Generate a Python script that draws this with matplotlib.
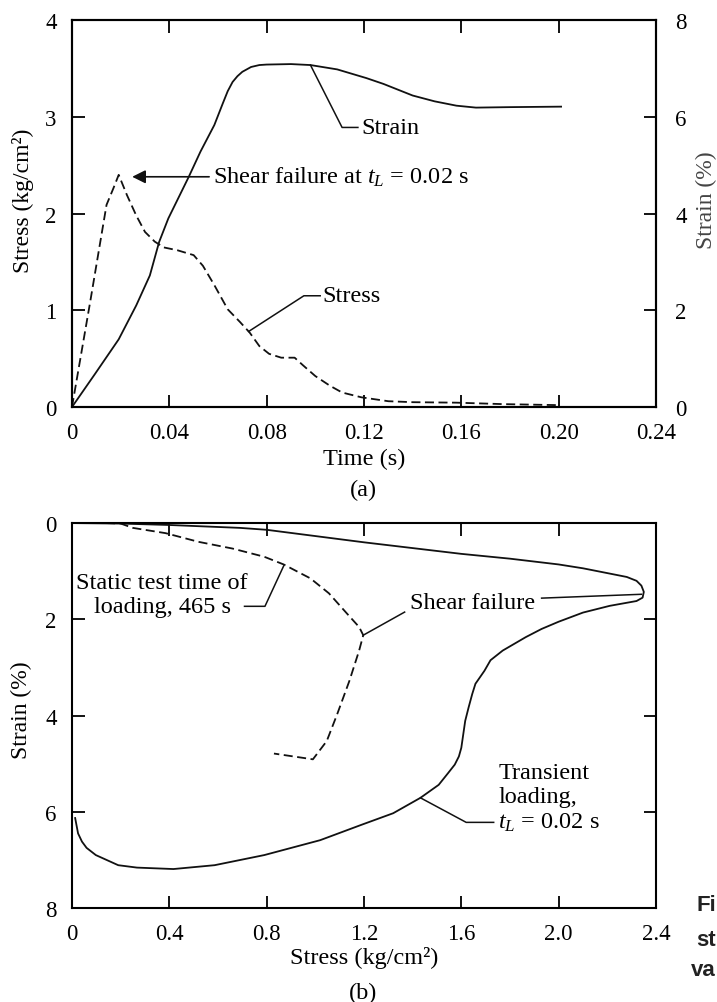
import numpy as np
import matplotlib.pyplot as plt

plt.rcParams['font.family'] = ['Liberation Serif', 'DejaVu Serif']
plt.rcParams['mathtext.fontset'] = 'custom'
plt.rcParams['mathtext.rm'] = 'Liberation Serif'
plt.rcParams['mathtext.it'] = 'Liberation Serif:italic'

# (a) stress and strain against time
time_stress = [0, 0.0075, 0.0142, 0.017, 0.0192, 0.0226, 0.0264, 0.030, 0.034, 0.0377,
               0.0434, 0.050, 0.0538, 0.0585, 0.064, 0.069, 0.073, 0.077, 0.081, 0.086,
               0.0915, 0.095, 0.100, 0.106, 0.111, 0.119, 0.130, 0.140, 0.158, 0.177, 0.199]
stress_a = [0, 1.09, 2.09, 2.26, 2.40, 2.19, 1.98, 1.81, 1.71, 1.65,
            1.62, 1.57, 1.46, 1.26, 1.01, 0.88, 0.77, 0.63, 0.55, 0.51,
            0.51, 0.43, 0.32, 0.22, 0.15, 0.10, 0.06, 0.05, 0.045, 0.03, 0.02]

time_strain = [0, 0.0094, 0.0192, 0.0264, 0.032, 0.0358, 0.0396, 0.048, 0.0528, 0.0585,
               0.062, 0.064, 0.066, 0.068, 0.070, 0.0736, 0.077, 0.080, 0.090, 0.098,
               0.109, 0.121, 0.128, 0.134, 0.140, 0.149, 0.158, 0.166, 0.180, 0.201]
strain_a = [0, 0.68, 1.40, 2.10, 2.72, 3.41, 3.90, 4.76, 5.28, 5.83,
            6.28, 6.53, 6.72, 6.84, 6.93, 7.03, 7.07, 7.08, 7.09, 7.07,
            6.98, 6.80, 6.68, 6.56, 6.44, 6.32, 6.23, 6.19, 6.20, 6.21]

# (b) strain against stress
stress_transient = [0.0, 0.2, 0.4, 0.69, 0.8, 1.2, 1.6, 1.8, 2.0, 2.1, 2.2, 2.28, 2.32, 2.34,
                    2.35, 2.345, 2.32, 2.21, 2.1, 2.0, 1.93, 1.865, 1.77, 1.72, 1.695, 1.658,
                    1.645, 1.63, 1.616, 1.6, 1.59, 1.573, 1.545, 1.507, 1.432, 1.32, 1.19, 1.02,
                    0.79, 0.586, 0.417, 0.267, 0.19, 0.098, 0.06, 0.041, 0.025, 0.013]
strain_transient = [0.0, 0.01, 0.04, 0.10, 0.14, 0.40, 0.64, 0.74, 0.86, 0.94, 1.04, 1.12, 1.20, 1.30,
                    1.43, 1.55, 1.62, 1.72, 1.86, 2.05, 2.20, 2.37, 2.65, 2.85, 3.07, 3.34,
                    3.55, 3.83, 4.11, 4.67, 4.85, 5.02, 5.20, 5.44, 5.71, 6.03, 6.27, 6.59,
                    6.90, 7.11, 7.19, 7.16, 7.11, 6.90, 6.75, 6.62, 6.45, 6.13]

stress_static = [0.14, 0.2, 0.25, 0.385, 0.52, 0.66, 0.79, 0.87, 0.98, 1.056, 1.13, 1.18, 1.197,
                 1.18, 1.14, 1.09, 1.047, 0.99, 0.83]
strain_static = [0.0, 0.01, 0.10, 0.21, 0.39, 0.53, 0.70, 0.86, 1.15, 1.46, 1.88, 2.16, 2.33,
                 2.65, 3.28, 3.97, 4.53, 4.91, 4.79]

time_ticks = [0, 0.04, 0.08, 0.12, 0.16, 0.20, 0.24]
time_labels = ['0', '0.04', '0.08', '0.12', '0.16', '0.20', '0.24']
stress_ticks = [0, 0.4, 0.8, 1.2, 1.6, 2.0, 2.4]
stress_labels = ['0', '0.4', '0.8', '1.2', '1.6', '2.0', '2.4']

FS = 16.5   # tick labels
FT = 17.5   # annotations and axis titles
DASH = (0, (5, 2.5))
LW = 1.3
INK = '#111111'

fig = plt.figure(figsize=(7.17, 10.03), dpi=100)

# ---- (a)
ax1 = fig.add_axes([0.1004, 0.5932, 0.8145, 0.3858])
ax2 = ax1.twinx()

ax1.plot(time_stress, stress_a, color=INK, lw=LW, linestyle=DASH)
ax2.plot(time_strain, strain_a, color=INK, lw=LW)

ax1.set_xlim(0, 0.24)
ax1.set_ylim(0, 4)
ax2.set_ylim(0, 8)
ax1.set_xticks(time_ticks)
ax1.set_xticklabels(time_labels)
ax1.set_yticks([0, 1, 2, 3, 4])
ax2.set_yticks([0, 2, 4, 6, 8])

ax1.tick_params(direction='in', length=9, width=1.3, labelsize=FS, pad=11,
                top=True, right=False)
ax2.tick_params(direction='in', length=9, width=1.3, labelsize=FS, pad=14)
for ax in (ax1, ax2):
    for s in ax.spines.values():
        s.set_linewidth(1.5)

ax1.set_xlabel('Time (s)', fontsize=FT)
ax1.xaxis.set_label_coords(0.5, -0.134)
ax1.xaxis.label.set_va('center')
ax1.set_ylabel('Stress (kg/cm²)', fontsize=17)
ax1.yaxis.set_label_coords(-0.084, 0.535)
ax1.yaxis.label.set_va('center')
ax2.set_ylabel('Strain (%)', fontsize=17, rotation=90, color='#444444')
ax2.yaxis.set_label_coords(1.086, 0.537)
ax2.yaxis.label.set_va('center')

# "Strain" leader
t0 = 0.098
y0 = np.interp(t0, time_strain, strain_a) / 2
ax1.plot([t0, 0.111, 0.1175], [y0, 2.89, 2.89], color=INK, lw=1.1)
ax1.text(0.119, 2.89, 'Strain', fontsize=FT, va='center', ha='left')

# shear failure arrow
ax1.annotate('', xy=(0.0236, 2.38), xytext=(0.0575, 2.38),
             arrowprops=dict(arrowstyle='-|>', color=INK, lw=1.2, mutation_scale=20))
ax1.text(0.0578, 2.38, r'Shear failure at $t_L$ = 0.02 s', fontsize=FT,
         va='center', ha='left')

# "Stress" leader
t1 = 0.0726
y1 = np.interp(t1, time_stress, stress_a)
ax1.plot([t1, 0.0953, 0.102], [y1, 1.15, 1.15], color=INK, lw=1.1)
ax1.text(0.1028, 1.15, 'Stress', fontsize=FT, va='center', ha='left')

fig.text(363 / 717, 1 - 490 / 1003, '(a)', fontsize=FT, ha='center', va='center')

# ---- (b)
ax3 = fig.add_axes([0.1004, 0.0937, 0.8145, 0.3838])
ax3.plot(stress_transient, strain_transient, color=INK, lw=LW)
ax3.plot(stress_static, strain_static, color=INK, lw=LW, linestyle=DASH)

ax3.set_xlim(0, 2.4)
ax3.set_ylim(8, 0)
ax3.set_xticks(stress_ticks)
ax3.set_xticklabels(stress_labels)
ax3.set_yticks([0, 2, 4, 6, 8])
ax3.tick_params(direction='in', length=9, width=1.3, labelsize=FS, pad=11,
                top=True, right=True)
for s in ax3.spines.values():
    s.set_linewidth(1.5)

ax3.set_xlabel('Stress (kg/cm²)', fontsize=FT)
ax3.xaxis.set_label_coords(0.5, -0.127)
ax3.xaxis.label.set_va('center')
ax3.set_ylabel('Strain (%)', fontsize=17)
ax3.yaxis.set_label_coords(-0.086, 0.517)
ax3.yaxis.label.set_va('center')

# static test label
ax3.plot([0.87, 0.793, 0.709], [0.89, 1.73, 1.73], color=INK, lw=1.1)
ax3.text(0.37, 1.49, 'Static test time of\nloading, 465 s', fontsize=FT,
         ha='center', va='center', linespacing=1.2)

# shear failure label
ax3.plot([1.197, 1.367], [2.33, 1.85], color=INK, lw=1.1)
ax3.plot([1.93, 2.34], [1.56, 1.48], color=INK, lw=1.1)
ax3.text(1.39, 1.66, 'Shear failure', fontsize=FT, ha='left', va='center')

# transient loading label
ax3.plot([1.432, 1.62, 1.733], [5.71, 6.22, 6.22], color=INK, lw=1.1)
ax3.text(1.752, 5.70, 'Transient\nloading,\n$t_L$ = 0.02 s', fontsize=FT,
         ha='left', va='center', linespacing=1.2)

fig.text(363 / 717, 1 - 993 / 1003, '(b)', fontsize=FT, ha='center', va='center')

# caption fragments visible at the right edge
for yy, word in [(906, 'Fi'), (941, 'st'), (971, 'va')]:
    fig.text(716 / 717, 1 - yy / 1003, word, fontsize=16, family='Liberation Sans',
             weight='bold', ha='right', va='center', color='#222222')

fig.savefig('out.png', dpi=100)
